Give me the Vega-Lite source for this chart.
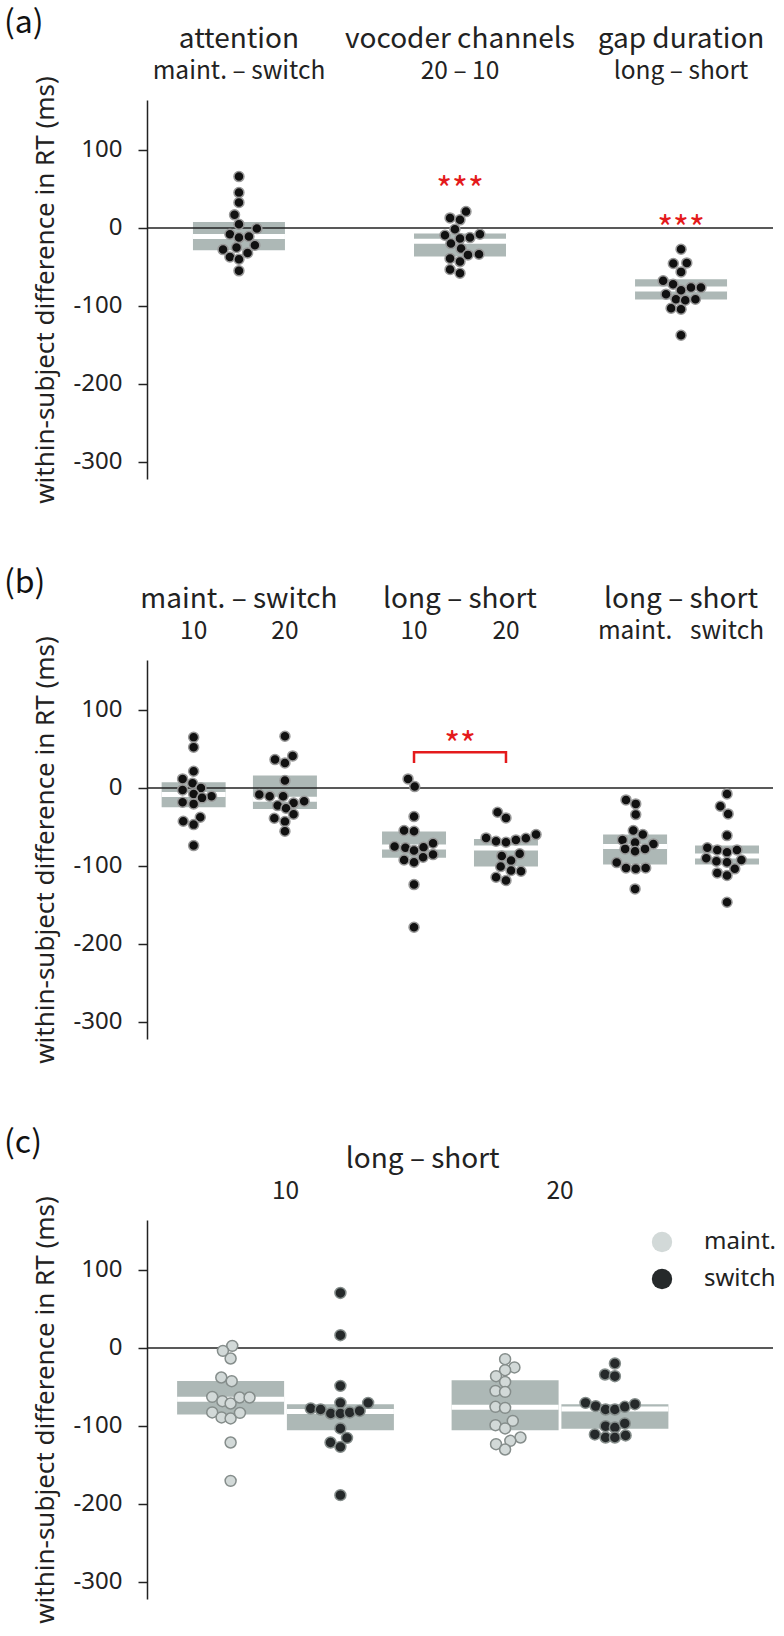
{
  "$schema": "https://vega.github.io/schema/vega-lite/v6.json",
  "padding": {"left": 3, "top": 6, "right": 0, "bottom": 0},
  "bounds": "flush",
  "spacing": 181,
  "resolve": {"legend": {"color": "independent"}, "scale": {"color": "independent"}},
  "config": {
    "view": {"stroke": null},
    "axis": {"domainColor": "#222", "domainWidth": 1.5, "tickColor": "#222", "tickWidth": 1.5, "tickSize": 9, "labelFont": "Noto Sans", "labelFontSize": 24, "labelColor": "#222", "labelPadding": 16, "titleFont": "Noto Sans", "titleFontSize": 26, "titleFontWeight": "normal", "titleColor": "#222", "grid": false}
  },
  "datasets": {
    "pts": [
      {"p":"a","x":1.0,"y":65.8},{"p":"a","x":1.0,"y":45.3},{"p":"a","x":1.0,"y":32.5},{"p":"a","x":0.98,"y":16.7},{"p":"a","x":1.0,"y":4.7},{"p":"a","x":1.081,"y":-0.9},{"p":"a","x":0.959,"y":-8.1},{"p":"a","x":1.0,"y":-12.4},{"p":"a","x":1.045,"y":-11.1},{"p":"a","x":1.072,"y":-22.2},{"p":"a","x":0.928,"y":-27.8},{"p":"a","x":0.989,"y":-25.2},{"p":"a","x":1.039,"y":-32.1},{"p":"a","x":0.959,"y":-37.2},{"p":"a","x":1.0,"y":-40.2},{"p":"a","x":1.0,"y":-55.1},
      {"p":"a","x":2.027,"y":20.9},{"p":"a","x":1.955,"y":12.8},{"p":"a","x":2.0,"y":10.3},{"p":"a","x":1.977,"y":-1.7},{"p":"a","x":1.932,"y":-9.4},{"p":"a","x":2.0,"y":-13.7},{"p":"a","x":2.045,"y":-12.4},{"p":"a","x":2.09,"y":-8.1},{"p":"a","x":1.959,"y":-20.1},{"p":"a","x":2.005,"y":-26.5},{"p":"a","x":2.036,"y":-34.6},{"p":"a","x":2.086,"y":-33.8},{"p":"a","x":1.955,"y":-39.3},{"p":"a","x":2.0,"y":-43.2},{"p":"a","x":1.955,"y":-53.4},{"p":"a","x":2.0,"y":-58.1},
      {"p":"a","x":3.0,"y":-27.4},{"p":"a","x":2.965,"y":-45.7},{"p":"a","x":3.026,"y":-44.9},{"p":"a","x":3.0,"y":-56.4},{"p":"a","x":2.919,"y":-67.9},{"p":"a","x":2.964,"y":-72.2},{"p":"a","x":3.045,"y":-76.5},{"p":"a","x":3.09,"y":-76.5},{"p":"a","x":3.0,"y":-79.9},{"p":"a","x":2.932,"y":-85},{"p":"a","x":2.977,"y":-91.5},{"p":"a","x":3.019,"y":-92.7},{"p":"a","x":3.065,"y":-91.5},{"p":"a","x":2.955,"y":-103},{"p":"a","x":3.0,"y":-104.3},{"p":"a","x":3.0,"y":-137.6},
      {"p":"b","x":0.795,"y":64.9},{"p":"b","x":0.795,"y":52.1},{"p":"b","x":0.795,"y":21.3},{"p":"b","x":0.745,"y":11.5},{"p":"b","x":0.79,"y":5.9},{"p":"b","x":0.745,"y":-2.6},{"p":"b","x":0.828,"y":0},{"p":"b","x":0.795,"y":-7.7},{"p":"b","x":0.876,"y":-10.7},{"p":"b","x":0.745,"y":-18.4},{"p":"b","x":0.833,"y":-12.8},{"p":"b","x":0.795,"y":-20.5},{"p":"b","x":0.748,"y":-42.8},{"p":"b","x":0.825,"y":-37.7},{"p":"b","x":0.795,"y":-47.1},{"p":"b","x":0.795,"y":-74},
      {"p":"b","x":1.208,"y":66.2},{"p":"b","x":1.163,"y":36.3},{"p":"b","x":1.208,"y":32},{"p":"b","x":1.243,"y":41},{"p":"b","x":1.208,"y":9.4},{"p":"b","x":1.092,"y":-8.6},{"p":"b","x":1.139,"y":-10.7},{"p":"b","x":1.2,"y":-10.7},{"p":"b","x":1.175,"y":-22.7},{"p":"b","x":1.247,"y":-19.3},{"p":"b","x":1.295,"y":-17.1},{"p":"b","x":1.213,"y":-26.1},{"p":"b","x":1.16,"y":-38.9},{"p":"b","x":1.247,"y":-33.8},{"p":"b","x":1.208,"y":-43.2},{"p":"b","x":1.208,"y":-55.6},
      {"p":"b","x":1.765,"y":11.5},{"p":"b","x":1.795,"y":1.7},{"p":"b","x":1.792,"y":-36.8},{"p":"b","x":1.747,"y":-54.7},{"p":"b","x":1.792,"y":-55.6},{"p":"b","x":1.704,"y":-75.3},{"p":"b","x":1.753,"y":-76.9},{"p":"b","x":1.792,"y":-80.4},{"p":"b","x":1.835,"y":-76.1},{"p":"b","x":1.878,"y":-71},{"p":"b","x":1.878,"y":-85.5},{"p":"b","x":1.747,"y":-92.4},{"p":"b","x":1.792,"y":-95.3},{"p":"b","x":1.833,"y":-88.9},{"p":"b","x":1.792,"y":-124},{"p":"b","x":1.792,"y":-178.7},
      {"p":"b","x":2.17,"y":-31.2},{"p":"b","x":2.208,"y":-38.5},{"p":"b","x":2.118,"y":-64.1},{"p":"b","x":2.163,"y":-68.4},{"p":"b","x":2.208,"y":-69.7},{"p":"b","x":2.253,"y":-66.7},{"p":"b","x":2.298,"y":-64.6},{"p":"b","x":2.344,"y":-59.9},{"p":"b","x":2.189,"y":-87.2},{"p":"b","x":2.27,"y":-84.6},{"p":"b","x":2.231,"y":-93.2},{"p":"b","x":2.184,"y":-100.9},{"p":"b","x":2.231,"y":-106},{"p":"b","x":2.276,"y":-106.9},{"p":"b","x":2.163,"y":-114.6},{"p":"b","x":2.208,"y":-118.8},
      {"p":"b","x":2.751,"y":-15.4},{"p":"b","x":2.795,"y":-20.5},{"p":"b","x":2.795,"y":-34.2},{"p":"b","x":2.784,"y":-54.7},{"p":"b","x":2.827,"y":-59.9},{"p":"b","x":2.735,"y":-66.7},{"p":"b","x":2.792,"y":-70.1},{"p":"b","x":2.875,"y":-71.8},{"p":"b","x":2.747,"y":-78.2},{"p":"b","x":2.792,"y":-81.2},{"p":"b","x":2.837,"y":-78.2},{"p":"b","x":2.709,"y":-95.8},{"p":"b","x":2.751,"y":-102.6},{"p":"b","x":2.795,"y":-103.8},{"p":"b","x":2.84,"y":-102.6},{"p":"b","x":2.792,"y":-129.5},
      {"p":"b","x":3.208,"y":-7.7},{"p":"b","x":3.178,"y":-23.6},{"p":"b","x":3.213,"y":-33.4},{"p":"b","x":3.208,"y":-61.2},{"p":"b","x":3.119,"y":-76.9},{"p":"b","x":3.164,"y":-79.5},{"p":"b","x":3.208,"y":-82.5},{"p":"b","x":3.253,"y":-79.5},{"p":"b","x":3.114,"y":-90.2},{"p":"b","x":3.16,"y":-94.1},{"p":"b","x":3.208,"y":-95.3},{"p":"b","x":3.273,"y":-92.4},{"p":"b","x":3.243,"y":-103.8},{"p":"b","x":3.164,"y":-109},{"p":"b","x":3.208,"y":-112.4},{"p":"b","x":3.208,"y":-146.6},
      {"p":"c","c":"maint.","x":0.806,"y":2.6},{"p":"c","c":"maint.","x":0.772,"y":-3.8},{"p":"c","c":"maint.","x":0.8,"y":-13.6},{"p":"c","c":"maint.","x":0.766,"y":-38},{"p":"c","c":"maint.","x":0.804,"y":-42.7},{"p":"c","c":"maint.","x":0.733,"y":-62.8},{"p":"c","c":"maint.","x":0.77,"y":-68.3},{"p":"c","c":"maint.","x":0.8,"y":-71.3},{"p":"c","c":"maint.","x":0.833,"y":-63.6},{"p":"c","c":"maint.","x":0.869,"y":-63.6},{"p":"c","c":"maint.","x":0.733,"y":-82.8},{"p":"c","c":"maint.","x":0.767,"y":-89.2},{"p":"c","c":"maint.","x":0.8,"y":-90.5},{"p":"c","c":"maint.","x":0.834,"y":-83.3},{"p":"c","c":"maint.","x":0.8,"y":-121.3},{"p":"c","c":"maint.","x":0.8,"y":-170.5},
      {"p":"c","c":"switch","x":1.2,"y":70.5},{"p":"c","c":"switch","x":1.2,"y":16.3},{"p":"c","c":"switch","x":1.2,"y":-48.7},{"p":"c","c":"switch","x":1.092,"y":-77.7},{"p":"c","c":"switch","x":1.128,"y":-79},{"p":"c","c":"switch","x":1.165,"y":-84.1},{"p":"c","c":"switch","x":1.2,"y":-70.5},{"p":"c","c":"switch","x":1.2,"y":-84.1},{"p":"c","c":"switch","x":1.234,"y":-82.8},{"p":"c","c":"switch","x":1.27,"y":-80.8},{"p":"c","c":"switch","x":1.301,"y":-70.5},{"p":"c","c":"switch","x":1.2,"y":-103.3},{"p":"c","c":"switch","x":1.164,"y":-121.3},{"p":"c","c":"switch","x":1.224,"y":-115.4},{"p":"c","c":"switch","x":1.2,"y":-126.9},{"p":"c","c":"switch","x":1.2,"y":-188.8},
      {"p":"c","c":"maint.","x":1.8,"y":-14.5},{"p":"c","c":"maint.","x":1.834,"y":-25.1},{"p":"c","c":"maint.","x":1.8,"y":-28.6},{"p":"c","c":"maint.","x":1.767,"y":-36.3},{"p":"c","c":"maint.","x":1.8,"y":-43.6},{"p":"c","c":"maint.","x":1.765,"y":-55.1},{"p":"c","c":"maint.","x":1.8,"y":-56.4},{"p":"c","c":"maint.","x":1.765,"y":-75.6},{"p":"c","c":"maint.","x":1.8,"y":-76.9},{"p":"c","c":"maint.","x":1.828,"y":-93.6},{"p":"c","c":"maint.","x":1.765,"y":-99.1},{"p":"c","c":"maint.","x":1.8,"y":-103.3},{"p":"c","c":"maint.","x":1.856,"y":-114.9},{"p":"c","c":"maint.","x":1.819,"y":-119.2},{"p":"c","c":"maint.","x":1.767,"y":-123.5},{"p":"c","c":"maint.","x":1.8,"y":-130.3},
      {"p":"c","c":"switch","x":2.2,"y":-20},{"p":"c","c":"switch","x":2.164,"y":-34.1},{"p":"c","c":"switch","x":2.2,"y":-36.3},{"p":"c","c":"switch","x":2.093,"y":-70.5},{"p":"c","c":"switch","x":2.13,"y":-74.7},{"p":"c","c":"switch","x":2.166,"y":-79},{"p":"c","c":"switch","x":2.2,"y":-79},{"p":"c","c":"switch","x":2.236,"y":-75.6},{"p":"c","c":"switch","x":2.273,"y":-72.2},{"p":"c","c":"switch","x":2.166,"y":-100.4},{"p":"c","c":"switch","x":2.2,"y":-102.1},{"p":"c","c":"switch","x":2.236,"y":-96.9},{"p":"c","c":"switch","x":2.127,"y":-111},{"p":"c","c":"switch","x":2.166,"y":-114.9},{"p":"c","c":"switch","x":2.2,"y":-114.9},{"p":"c","c":"switch","x":2.239,"y":-112.3}
    ],
    "boxes": [
      {"p":"a","x":1,"lo":-28.6,"hi":7.7,"mean":-11},
      {"p":"a","x":2,"lo":-36.8,"hi":-7.3,"mean":-17},
      {"p":"a","x":3,"lo":-91.9,"hi":-65.8,"mean":-78.4},
      {"p":"b","x":0.795,"lo":-24.8,"hi":7.2,"mean":-8.6},
      {"p":"b","x":1.208,"lo":-27,"hi":15.8,"mean":-14.6},
      {"p":"b","x":1.792,"lo":-89.7,"hi":-56,"mean":-75.9},
      {"p":"b","x":2.208,"lo":-100.9,"hi":-65.4,"mean":-77.2},
      {"p":"b","x":2.792,"lo":-98.3,"hi":-59.9,"mean":-75},
      {"p":"b","x":3.208,"lo":-98.3,"hi":-74,"mean":-87.4},
      {"p":"c","x":0.8,"lo":-85.4,"hi":-42.3,"mean":-66},
      {"p":"c","x":1.2,"lo":-105.5,"hi":-72.2,"mean":-81.6},
      {"p":"c","x":1.8,"lo":-105.5,"hi":-41.4,"mean":-76},
      {"p":"c","x":2.2,"lo":-103.8,"hi":-72.2,"mean":-78.4}
    ],
    "heads": [
      {"p":"a","line":1,"x":1,"text":"attention"},
      {"p":"a","line":1,"x":2,"text":"vocoder channels"},
      {"p":"a","line":1,"x":3,"text":"gap duration"},
      {"p":"a","line":2,"x":1,"text":"maint. – switch"},
      {"p":"a","line":2,"x":2,"text":"20 – 10"},
      {"p":"a","line":2,"x":3,"text":"long – short"},
      {"p":"b","line":1,"x":1,"text":"maint. – switch"},
      {"p":"b","line":1,"x":2,"text":"long – short"},
      {"p":"b","line":1,"x":3,"text":"long – short"},
      {"p":"b","line":2,"x":0.795,"text":"10"},
      {"p":"b","line":2,"x":1.208,"text":"20"},
      {"p":"b","line":2,"x":1.792,"text":"10"},
      {"p":"b","line":2,"x":2.208,"text":"20"},
      {"p":"b","line":2,"x":2.792,"text":"maint."},
      {"p":"b","line":2,"x":3.208,"text":"switch"},
      {"p":"c","line":1,"x":1.5,"text":"long – short"},
      {"p":"c","line":2,"x":1,"text":"10"},
      {"p":"c","line":2,"x":2,"text":"20"}
    ],
    "stars": [
      {"p":"a","x":2,"y":33.3,"text":"***"},
      {"p":"a","x":3,"y":-16.3,"text":"***"},
      {"p":"b","x":2,"y":39.7,"text":"**"}
    ],
    "bracket": [
      {"o":1,"x":1.792,"y":32},
      {"o":2,"x":1.792,"y":45.6},
      {"o":3,"x":2.208,"y":45.6},
      {"o":4,"x":2.208,"y":32}
    ]
  },
  "vconcat": [
    {
      "width": 626, "height": 379,
      "layer": [
        {"data": {"name": "boxes"}, "transform": [{"filter": "datum.p == 'a'"}],
         "mark": {"type": "bar", "width": 92, "color": "#adb8b6"},
         "encoding": {
           "x": {"field": "x", "type": "quantitative", "scale": {"domain": [0.584, 3.416], "nice": false, "zero": false, "padding": 0}, "axis": null},
           "y": {"field": "lo", "type": "quantitative", "scale": {"domain": [-322, 164], "nice": false, "zero": false, "padding": 0}, "axis": {"values": [100, 0, -100, -200, -300], "title": "within-subject difference in RT (ms)", "labelExpr": "'' + datum.value", "titleX": -89}},
           "y2": {"field": "hi"}}},
        {"data": {"name": "boxes"}, "transform": [{"filter": "datum.p == 'a'"}],
         "mark": {"type": "tick", "orient": "horizontal", "size": 92, "thickness": 5, "color": "#ffffff", "opacity": 1},
         "encoding": {
           "x": {"field": "x", "type": "quantitative", "scale": {"domain": [0.584, 3.416], "nice": false, "zero": false, "padding": 0}, "axis": null},
           "y": {"field": "mean", "type": "quantitative", "scale": {"domain": [-322, 164], "nice": false, "zero": false, "padding": 0}, "axis": {"values": [100, 0, -100, -200, -300], "title": "within-subject difference in RT (ms)", "labelExpr": "'' + datum.value", "titleX": -89}}}},
        {"data": {"values": [{}]},
         "mark": {"type": "rule", "color": "#222", "strokeWidth": 1.5},
         "encoding": {"y": {"datum": 0, "type": "quantitative", "scale": {"domain": [-322, 164], "nice": false, "zero": false, "padding": 0}, "axis": {"values": [100, 0, -100, -200, -300], "title": "within-subject difference in RT (ms)", "labelExpr": "'' + datum.value", "titleX": -89}}}},
        {"data": {"name": "pts"}, "transform": [{"filter": "datum.p == 'a'"}],
         "mark": {"type": "circle", "size": 100, "fill": "#111111", "stroke": "#999999", "strokeWidth": 1.5, "opacity": 1},
         "encoding": {
           "x": {"field": "x", "type": "quantitative", "scale": {"domain": [0.584, 3.416], "nice": false, "zero": false, "padding": 0}, "axis": null},
           "y": {"field": "y", "type": "quantitative", "scale": {"domain": [-322, 164], "nice": false, "zero": false, "padding": 0}, "axis": {"values": [100, 0, -100, -200, -300], "title": "within-subject difference in RT (ms)", "labelExpr": "'' + datum.value", "titleX": -89}}}},
        {"data": {"name": "stars"}, "transform": [{"filter": "datum.p == 'a'"}],
         "mark": {"type": "text", "font": "Noto Sans CJK JP", "fontSize": 34, "color": "#e41a1c", "baseline": "alphabetic", "align": "center"},
         "encoding": {
           "x": {"field": "x", "type": "quantitative", "scale": {"domain": [0.584, 3.416], "nice": false, "zero": false, "padding": 0}, "axis": null},
           "y": {"field": "y", "type": "quantitative", "scale": {"domain": [-322, 164], "nice": false, "zero": false, "padding": 0}, "axis": {"values": [100, 0, -100, -200, -300], "title": "within-subject difference in RT (ms)", "labelExpr": "'' + datum.value", "titleX": -89}},
           "text": {"field": "text"}}},
        {"data": {"name": "heads"}, "transform": [{"filter": "datum.p == 'a' && datum.line == 1"}],
         "mark": {"type": "text", "font": "Noto Sans CJK JP", "fontSize": 28, "color": "#222", "baseline": "alphabetic", "align": "center"},
         "encoding": {
           "x": {"field": "x", "type": "quantitative", "scale": {"domain": [0.584, 3.416], "nice": false, "zero": false, "padding": 0}, "axis": null},
           "y": {"datum": 230.7, "type": "quantitative", "scale": {"domain": [-322, 164], "nice": false, "zero": false, "padding": 0}, "axis": {"values": [100, 0, -100, -200, -300], "title": "within-subject difference in RT (ms)", "labelExpr": "'' + datum.value", "titleX": -89}},
           "text": {"field": "text"}}},
        {"data": {"name": "heads"}, "transform": [{"filter": "datum.p == 'a' && datum.line == 2"}],
         "mark": {"type": "text", "font": "Noto Sans CJK JP", "fontSize": 24.5, "color": "#222", "baseline": "alphabetic", "align": "center"},
         "encoding": {
           "x": {"field": "x", "type": "quantitative", "scale": {"domain": [0.584, 3.416], "nice": false, "zero": false, "padding": 0}, "axis": null},
           "y": {"datum": 190.9, "type": "quantitative", "scale": {"domain": [-322, 164], "nice": false, "zero": false, "padding": 0}, "axis": {"values": [100, 0, -100, -200, -300], "title": "within-subject difference in RT (ms)", "labelExpr": "'' + datum.value", "titleX": -89}},
           "text": {"field": "text"}}},
        {"data": {"values": [{}]},
         "mark": {"type": "text", "text": "(a)", "font": "Noto Sans CJK JP", "fontSize": 32, "color": "#111", "baseline": "alphabetic", "align": "left"},
         "encoding": {
           "x": {"datum": -0.063, "type": "quantitative", "scale": {"domain": [0.584, 3.416], "nice": false, "zero": false, "padding": 0}, "axis": null},
           "y": {"datum": 250, "type": "quantitative", "scale": {"domain": [-322, 164], "nice": false, "zero": false, "padding": 0}, "axis": {"values": [100, 0, -100, -200, -300], "title": "within-subject difference in RT (ms)", "labelExpr": "'' + datum.value", "titleX": -89}}}}
      ]
    },
    {
      "width": 626, "height": 379,
      "layer": [
        {"data": {"name": "boxes"}, "transform": [{"filter": "datum.p == 'b'"}],
         "mark": {"type": "bar", "width": 64, "color": "#adb8b6"},
         "encoding": {
           "x": {"field": "x", "type": "quantitative", "scale": {"domain": [0.584, 3.416], "nice": false, "zero": false, "padding": 0}, "axis": null},
           "y": {"field": "lo", "type": "quantitative", "scale": {"domain": [-322, 164], "nice": false, "zero": false, "padding": 0}, "axis": {"values": [100, 0, -100, -200, -300], "title": "within-subject difference in RT (ms)", "labelExpr": "'' + datum.value", "titleX": -89}},
           "y2": {"field": "hi"}}},
        {"data": {"name": "boxes"}, "transform": [{"filter": "datum.p == 'b'"}],
         "mark": {"type": "tick", "orient": "horizontal", "size": 64, "thickness": 5, "color": "#ffffff", "opacity": 1},
         "encoding": {
           "x": {"field": "x", "type": "quantitative", "scale": {"domain": [0.584, 3.416], "nice": false, "zero": false, "padding": 0}, "axis": null},
           "y": {"field": "mean", "type": "quantitative", "scale": {"domain": [-322, 164], "nice": false, "zero": false, "padding": 0}, "axis": {"values": [100, 0, -100, -200, -300], "title": "within-subject difference in RT (ms)", "labelExpr": "'' + datum.value", "titleX": -89}}}},
        {"data": {"values": [{}]},
         "mark": {"type": "rule", "color": "#222", "strokeWidth": 1.5},
         "encoding": {"y": {"datum": 0, "type": "quantitative", "scale": {"domain": [-322, 164], "nice": false, "zero": false, "padding": 0}, "axis": {"values": [100, 0, -100, -200, -300], "title": "within-subject difference in RT (ms)", "labelExpr": "'' + datum.value", "titleX": -89}}}},
        {"data": {"name": "pts"}, "transform": [{"filter": "datum.p == 'b'"}],
         "mark": {"type": "circle", "size": 100, "fill": "#111111", "stroke": "#999999", "strokeWidth": 1.5, "opacity": 1},
         "encoding": {
           "x": {"field": "x", "type": "quantitative", "scale": {"domain": [0.584, 3.416], "nice": false, "zero": false, "padding": 0}, "axis": null},
           "y": {"field": "y", "type": "quantitative", "scale": {"domain": [-322, 164], "nice": false, "zero": false, "padding": 0}, "axis": {"values": [100, 0, -100, -200, -300], "title": "within-subject difference in RT (ms)", "labelExpr": "'' + datum.value", "titleX": -89}}}},
        {"data": {"name": "bracket"},
         "mark": {"type": "line", "color": "#e41a1c", "strokeWidth": 2.5},
         "encoding": {
           "x": {"field": "x", "type": "quantitative", "scale": {"domain": [0.584, 3.416], "nice": false, "zero": false, "padding": 0}, "axis": null},
           "y": {"field": "y", "type": "quantitative", "scale": {"domain": [-322, 164], "nice": false, "zero": false, "padding": 0}, "axis": {"values": [100, 0, -100, -200, -300], "title": "within-subject difference in RT (ms)", "labelExpr": "'' + datum.value", "titleX": -89}},
           "order": {"field": "o", "type": "quantitative"}}},
        {"data": {"name": "stars"}, "transform": [{"filter": "datum.p == 'b'"}],
         "mark": {"type": "text", "font": "Noto Sans CJK JP", "fontSize": 34, "color": "#e41a1c", "baseline": "alphabetic", "align": "center"},
         "encoding": {
           "x": {"field": "x", "type": "quantitative", "scale": {"domain": [0.584, 3.416], "nice": false, "zero": false, "padding": 0}, "axis": null},
           "y": {"field": "y", "type": "quantitative", "scale": {"domain": [-322, 164], "nice": false, "zero": false, "padding": 0}, "axis": {"values": [100, 0, -100, -200, -300], "title": "within-subject difference in RT (ms)", "labelExpr": "'' + datum.value", "titleX": -89}},
           "text": {"field": "text"}}},
        {"data": {"name": "heads"}, "transform": [{"filter": "datum.p == 'b' && datum.line == 1"}],
         "mark": {"type": "text", "font": "Noto Sans CJK JP", "fontSize": 28, "color": "#222", "baseline": "alphabetic", "align": "center"},
         "encoding": {
           "x": {"field": "x", "type": "quantitative", "scale": {"domain": [0.584, 3.416], "nice": false, "zero": false, "padding": 0}, "axis": null},
           "y": {"datum": 230.7, "type": "quantitative", "scale": {"domain": [-322, 164], "nice": false, "zero": false, "padding": 0}, "axis": {"values": [100, 0, -100, -200, -300], "title": "within-subject difference in RT (ms)", "labelExpr": "'' + datum.value", "titleX": -89}},
           "text": {"field": "text"}}},
        {"data": {"name": "heads"}, "transform": [{"filter": "datum.p == 'b' && datum.line == 2"}],
         "mark": {"type": "text", "font": "Noto Sans CJK JP", "fontSize": 24.5, "color": "#222", "baseline": "alphabetic", "align": "center"},
         "encoding": {
           "x": {"field": "x", "type": "quantitative", "scale": {"domain": [0.584, 3.416], "nice": false, "zero": false, "padding": 0}, "axis": null},
           "y": {"datum": 190.9, "type": "quantitative", "scale": {"domain": [-322, 164], "nice": false, "zero": false, "padding": 0}, "axis": {"values": [100, 0, -100, -200, -300], "title": "within-subject difference in RT (ms)", "labelExpr": "'' + datum.value", "titleX": -89}},
           "text": {"field": "text"}}},
        {"data": {"values": [{}]},
         "mark": {"type": "text", "text": "(b)", "font": "Noto Sans CJK JP", "fontSize": 32, "color": "#111", "baseline": "alphabetic", "align": "left"},
         "encoding": {
           "x": {"datum": -0.063, "type": "quantitative", "scale": {"domain": [0.584, 3.416], "nice": false, "zero": false, "padding": 0}, "axis": null},
           "y": {"datum": 250, "type": "quantitative", "scale": {"domain": [-322, 164], "nice": false, "zero": false, "padding": 0}, "axis": {"values": [100, 0, -100, -200, -300], "title": "within-subject difference in RT (ms)", "labelExpr": "'' + datum.value", "titleX": -89}}}}
      ]
    },
    {
      "width": 626, "height": 379,
      "layer": [
        {"data": {"name": "boxes"}, "transform": [{"filter": "datum.p == 'c'"}],
         "mark": {"type": "bar", "width": 107, "color": "#adb8b6"},
         "encoding": {
           "x": {"field": "x", "type": "quantitative", "scale": {"domain": [0.4954, 2.776], "nice": false, "zero": false, "padding": 0}, "axis": null},
           "y": {"field": "lo", "type": "quantitative", "scale": {"domain": [-322, 164], "nice": false, "zero": false, "padding": 0}, "axis": {"values": [100, 0, -100, -200, -300], "title": "within-subject difference in RT (ms)", "labelExpr": "'' + datum.value", "titleX": -89}},
           "y2": {"field": "hi"}}},
        {"data": {"name": "boxes"}, "transform": [{"filter": "datum.p == 'c'"}],
         "mark": {"type": "tick", "orient": "horizontal", "size": 107, "thickness": 5, "color": "#ffffff", "opacity": 1},
         "encoding": {
           "x": {"field": "x", "type": "quantitative", "scale": {"domain": [0.4954, 2.776], "nice": false, "zero": false, "padding": 0}, "axis": null},
           "y": {"field": "mean", "type": "quantitative", "scale": {"domain": [-322, 164], "nice": false, "zero": false, "padding": 0}, "axis": {"values": [100, 0, -100, -200, -300], "title": "within-subject difference in RT (ms)", "labelExpr": "'' + datum.value", "titleX": -89}}}},
        {"data": {"values": [{}]},
         "mark": {"type": "rule", "color": "#222", "strokeWidth": 1.5},
         "encoding": {"y": {"datum": 0, "type": "quantitative", "scale": {"domain": [-322, 164], "nice": false, "zero": false, "padding": 0}, "axis": {"values": [100, 0, -100, -200, -300], "title": "within-subject difference in RT (ms)", "labelExpr": "'' + datum.value", "titleX": -89}}}},
        {"data": {"name": "pts"}, "transform": [{"filter": "datum.p == 'c'"}],
         "mark": {"type": "circle", "size": 120, "stroke": "#858d8b", "strokeWidth": 1.5, "opacity": 1},
         "encoding": {
           "x": {"field": "x", "type": "quantitative", "scale": {"domain": [0.4954, 2.776], "nice": false, "zero": false, "padding": 0}, "axis": null},
           "y": {"field": "y", "type": "quantitative", "scale": {"domain": [-322, 164], "nice": false, "zero": false, "padding": 0}, "axis": {"values": [100, 0, -100, -200, -300], "title": "within-subject difference in RT (ms)", "labelExpr": "'' + datum.value", "titleX": -89}},
           "color": {"field": "c", "type": "nominal", "scale": {"domain": ["maint.", "switch"], "range": ["#d2d9d8", "#25292a"]},
             "legend": {"orient": "none", "legendX": 503, "legendY": 10, "title": null, "symbolType": "circle", "symbolSize": 415, "symbolStrokeWidth": 0, "symbolOpacity": 1, "labelFont": "Noto Sans", "labelFontSize": 24, "labelColor": "#222", "labelOffset": 30, "rowPadding": 13}}}},
        {"data": {"name": "heads"}, "transform": [{"filter": "datum.p == 'c' && datum.line == 1"}],
         "mark": {"type": "text", "font": "Noto Sans CJK JP", "fontSize": 28, "color": "#222", "baseline": "alphabetic", "align": "center"},
         "encoding": {
           "x": {"field": "x", "type": "quantitative", "scale": {"domain": [0.4954, 2.776], "nice": false, "zero": false, "padding": 0}, "axis": null},
           "y": {"datum": 230.7, "type": "quantitative", "scale": {"domain": [-322, 164], "nice": false, "zero": false, "padding": 0}, "axis": {"values": [100, 0, -100, -200, -300], "title": "within-subject difference in RT (ms)", "labelExpr": "'' + datum.value", "titleX": -89}},
           "text": {"field": "text"}}},
        {"data": {"name": "heads"}, "transform": [{"filter": "datum.p == 'c' && datum.line == 2"}],
         "mark": {"type": "text", "font": "Noto Sans CJK JP", "fontSize": 24.5, "color": "#222", "baseline": "alphabetic", "align": "center"},
         "encoding": {
           "x": {"field": "x", "type": "quantitative", "scale": {"domain": [0.4954, 2.776], "nice": false, "zero": false, "padding": 0}, "axis": null},
           "y": {"datum": 190.9, "type": "quantitative", "scale": {"domain": [-322, 164], "nice": false, "zero": false, "padding": 0}, "axis": {"values": [100, 0, -100, -200, -300], "title": "within-subject difference in RT (ms)", "labelExpr": "'' + datum.value", "titleX": -89}},
           "text": {"field": "text"}}},
        {"data": {"values": [{}]},
         "mark": {"type": "text", "text": "(c)", "font": "Noto Sans CJK JP", "fontSize": 32, "color": "#111", "baseline": "alphabetic", "align": "left"},
         "encoding": {
           "x": {"datum": -0.0256, "type": "quantitative", "scale": {"domain": [0.4954, 2.776], "nice": false, "zero": false, "padding": 0}, "axis": null},
           "y": {"datum": 250, "type": "quantitative", "scale": {"domain": [-322, 164], "nice": false, "zero": false, "padding": 0}, "axis": {"values": [100, 0, -100, -200, -300], "title": "within-subject difference in RT (ms)", "labelExpr": "'' + datum.value", "titleX": -89}}}}
      ]
    }
  ]
}
